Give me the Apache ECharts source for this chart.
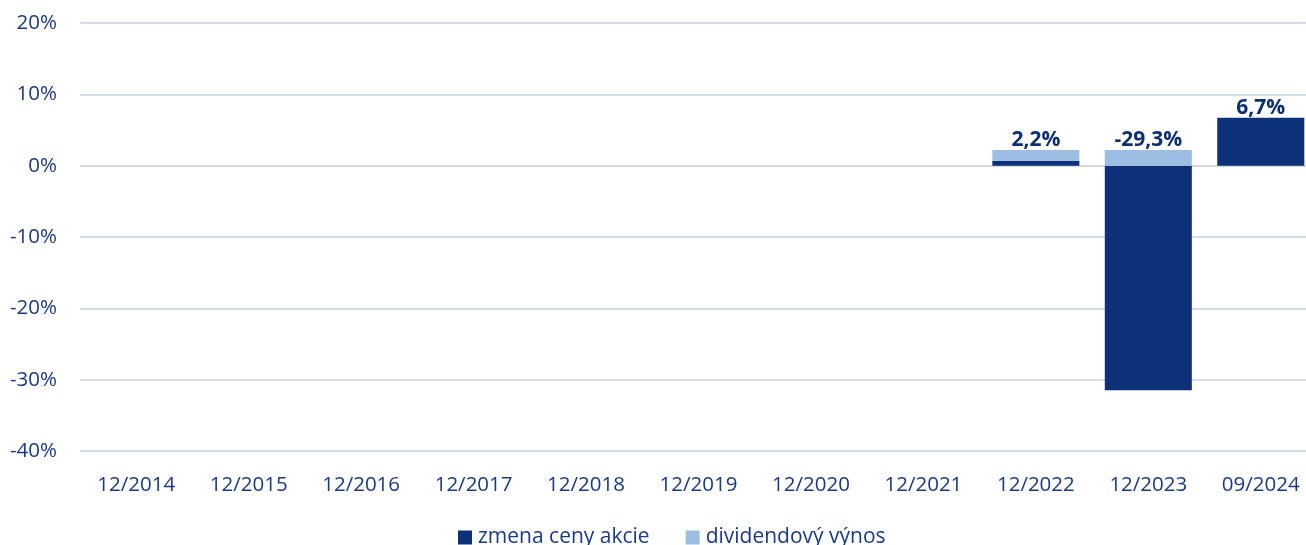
<!DOCTYPE html>
<html>
<head>
<meta charset="utf-8">
<script src="https://cdn.jsdelivr.net/npm/echarts@6/dist/echarts.min.js"></script>
<style>
  html, body { margin: 0; padding: 0; background: #fff; overflow: hidden; }
  #chart { width: 1317px; height: 545px; }
</style>
</head>
<body>
<div id="chart"></div>
<script>
const categories = ['12/2014', '12/2015', '12/2016', '12/2017', '12/2018', '12/2019', '12/2020', '12/2021', '12/2022', '12/2023', '09/2024']
const priceChange = [null, null, null, null, null, null, null, null, 0.7, -31.5, 6.7]
const dividendYield = [null, null, null, null, null, null, null, null, 1.5, 2.2, 0]
const totalLabels = ['', '', '', '', '', '', '', '', '2,2%', '-29,3%', '6,7%']

const textColor = '#1b3a84'
const gridColors = ['#d3dcea', '#d3dcea', '#d3dcea', '#d3dcea', '#d6d6d6', '#d3dcea', '#d3dcea']

const chart = echarts.init(document.getElementById('chart'), undefined, { renderer: 'canvas' })

const labelStyle = {
  show: true,
  position: 'top',
  distance: -1,
  color: '#0c2f72',
  fontFamily: 'Open Sans',
  fontWeight: 'bold',
  fontSize: 21,
}

chart.setOption({
  animation: false,
  color: ['#0c3178', '#9dbde2'],
  textStyle: { fontFamily: 'Open Sans' },
  grid: { left: 80, right: 0, top: 23, bottom: 94 },
  legend: {
    bottom: -8,
    left: 453,
    itemWidth: 14,
    itemHeight: 14,
    itemGap: 36,
    icon: 'rect',
    textStyle: { color: textColor, fontSize: 21, fontFamily: 'Open Sans', padding: [0, 0, 0, 1] },
    data: ['zmena ceny akcie', 'dividendový výnos'],
  },
  xAxis: {
    type: 'category',
    data: categories,
    axisLine: { show: false, onZero: false },
    axisTick: { show: false },
    axisLabel: { color: textColor, fontSize: 20.5, margin: 24 },
  },
  yAxis: {
    type: 'value',
    min: -40,
    max: 20,
    interval: 10,
    axisLabel: {
      color: textColor,
      fontSize: 20.5,
      margin: 23,
      formatter: (v) => v + '%',
    },
    splitLine: { lineStyle: { color: gridColors, width: 2 } },
  },
  series: [
    {
      name: 'zmena ceny akcie',
      type: 'bar',
      stack: 'total',
      barCategoryGap: '22.6%',
      data: priceChange,
      label: {
        ...labelStyle,
        formatter: (p) => (dividendYield[p.dataIndex] === 0 ? totalLabels[p.dataIndex] : ''),
      },
    },
    {
      name: 'dividendový výnos',
      type: 'bar',
      stack: 'total',
      barCategoryGap: '22.6%',
      data: dividendYield,
      label: {
        ...labelStyle,
        formatter: (p) => (dividendYield[p.dataIndex] > 0 ? totalLabels[p.dataIndex] : ''),
      },
    },
  ],
})
</script>
</body>
</html>
